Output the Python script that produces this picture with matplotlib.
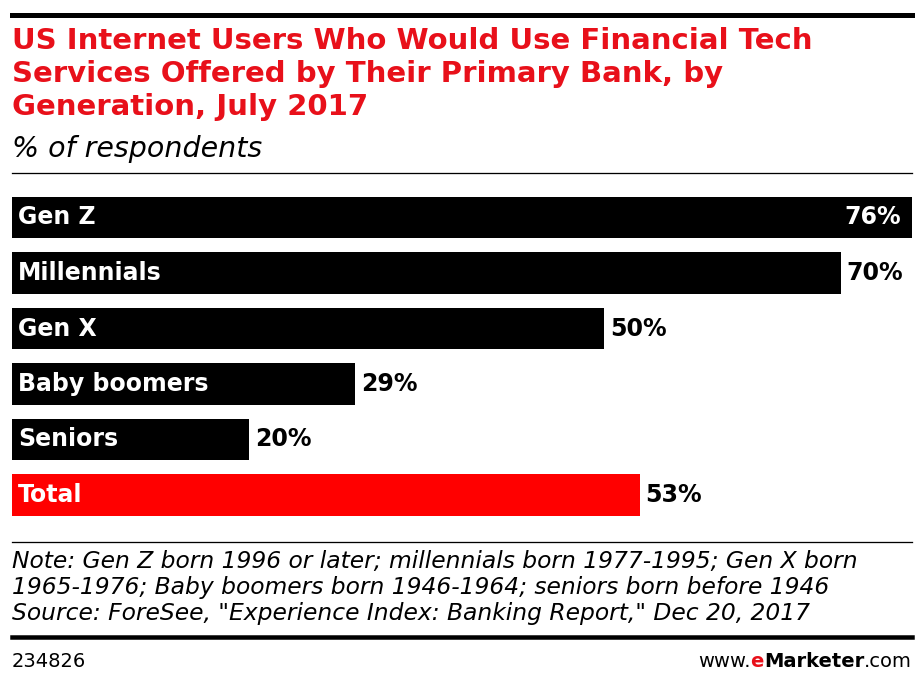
import matplotlib.pyplot as plt
from matplotlib.lines import Line2D

# data
generations = ["Gen Z", "Millennials", "Gen X", "Baby boomers", "Seniors", "Total"]
shares = [76, 70, 50, 29, 20, 53]
bar_colors = ["black", "black", "black", "black", "black", "#ff0000"]

W, H = 922, 681
fig = plt.figure(figsize=(W / 100, H / 100), dpi=100)

def fy(py):
    return 1 - py / H

def fx(px):
    return px / W

plt.rcParams['font.family'] = ['DejaVu Sans']

# horizontal rules
for y, lw in [(15, 5), (173, 1.3), (542, 1.3), (637, 4.5)]:
    fig.add_artist(Line2D([fx(12), fx(912)], [fy(y), fy(y)], color="black", lw=lw * 0.72))

title = ("US Internet Users Who Would Use Financial Tech\n"
         "Services Offered by Their Primary Bank, by\n"
         "Generation, July 2017")
fig.text(fx(12), fy(27), title, color="#e8101a", fontsize=21, fontweight="bold",
         va="top", ha="left", linespacing=1.22)
fig.text(fx(12), fy(157), "% of respondents", fontsize=20.5, style="italic",
         va="baseline", ha="left")

ax = fig.add_axes([fx(12), fy(522.75), fx(900), (522.75 - 189.75) / H])
ypos = list(range(len(generations)))
ax.barh(ypos, shares, height=0.74, color=bar_colors)
ax.set_xlim(0, 76)
ax.set_ylim(5.5, -0.5)
ax.axis("off")

for i, (g, v) in enumerate(zip(generations, shares)):
    ax.text(0.5, i, g, color="white", fontsize=17, fontweight="bold",
            va="center", ha="left")
    if v >= 75:
        ax.text(v - 0.9, i, f"{v}%", color="white", fontsize=17, fontweight="bold",
                va="center", ha="right")
    else:
        ax.text(v + 0.5, i, f"{v}%", color="black", fontsize=17, fontweight="bold",
                va="center", ha="left")

note = ("Note: Gen Z born 1996 or later; millennials born 1977-1995; Gen X born\n"
        "1965-1976; Baby boomers born 1946-1964; seniors born before 1946\n"
        "Source: ForeSee, \"Experience Index: Banking Report,\" Dec 20, 2017")
fig.text(fx(12), fy(550), note, fontsize=16.8, style="italic", va="top", ha="left",
         linespacing=1.17)

# footer
fig.text(fx(12), fy(667), "234826", fontsize=14, va="baseline", ha="left")
r = fig.canvas.get_renderer()
x = fx(912)
for part, wt, col in [(".com", "normal", "black"), ("Marketer", "bold", "black"),
                      ("e", "bold", "#e8101a"), ("www.", "normal", "black")]:
    t = fig.text(x, fy(667), part, fontsize=14, fontweight=wt, color=col,
                 va="baseline", ha="right")
    x -= t.get_window_extent(r).width / W

fig.savefig("out.png", dpi=100)
